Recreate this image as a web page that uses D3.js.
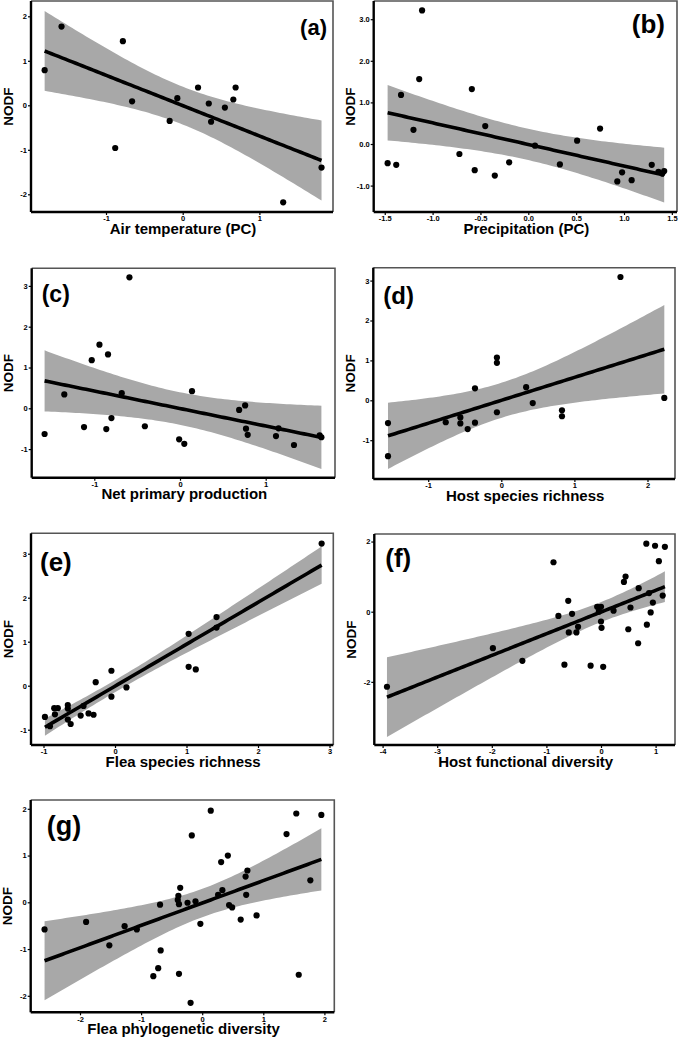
<!DOCTYPE html>
<html><head><meta charset="utf-8">
<script src="https://cdn.jsdelivr.net/npm/d3@7"></script>
<style>
body{margin:0;background:#fff}
svg{display:block}
text{font-family:"Liberation Sans",Arial,Helvetica,sans-serif;font-weight:bold;fill:#000}
</style>
</head><body>
<svg id="chart" width="680" height="1038"></svg>
<script>
// ---------------- DATA ----------------
const panelLetters = ["(a)","(b)","(c)","(d)","(e)","(f)","(g)"];
const xTitles = ["Air temperature (PC)","Precipitation (PC)","Net primary production",
  "Host species richness","Flea species richness","Host functional diversity","Flea phylogenetic diversity"];
const yTitle = "NODF";

const aX = [-1.80,-1.58,-0.78,-0.66,-0.88,-0.17,-0.07,0.20,0.34,0.37,0.55,0.66,0.69,1.31,1.81];
const aY = [0.79,1.77,1.44,0.09,-0.96,-0.35,0.16,0.40,0.04,-0.37,-0.05,0.13,0.40,-2.18,-1.40];

const bX = [-1.47,-1.38,-1.33,-1.20,-1.14,-1.11,-0.72,-0.59,-0.56,-0.45,-0.35,-0.20,0.07,0.33,0.51,0.75,0.93,0.98,1.08,1.29,1.36,1.40,1.42];
const bY = [-0.46,-0.50,1.18,0.34,1.56,3.21,-0.24,1.32,-0.63,0.43,-0.76,-0.44,-0.04,-0.49,0.08,0.37,-0.90,-0.68,-0.87,-0.50,-0.67,-0.71,-0.65];

const cX = [-1.58,-1.35,-1.12,-1.03,-0.94,-0.86,-0.84,-0.80,-0.68,-0.59,-0.41,-0.01,0.05,0.14,0.69,0.76,0.77,0.79,1.12,1.15,1.33,1.63,1.65];
const cY = [-0.63,0.34,-0.46,1.18,1.56,-0.51,1.32,-0.24,0.37,3.21,-0.44,-0.76,-0.87,0.42,-0.04,0.07,-0.50,-0.65,-0.68,-0.49,-0.90,-0.66,-0.71];

const dX = [-1.55,-1.55,-0.76,-0.56,-0.56,-0.46,-0.36,-0.36,-0.06,-0.06,-0.06,0.34,0.43,0.83,0.83,1.63,2.23];
const dY = [-0.57,-1.40,-0.55,-0.43,-0.58,-0.72,0.30,-0.56,1.07,0.94,-0.30,0.33,-0.07,-0.25,-0.40,3.09,0.06];

const eX = [-0.98,-0.91,-0.85,-0.84,-0.80,-0.66,-0.66,-0.66,-0.62,-0.48,-0.44,-0.37,-0.30,-0.27,-0.05,-0.05,0.16,1.03,1.03,1.13,1.42,1.42,2.89];
const eY = [-0.71,-0.92,-0.51,-0.65,-0.51,-0.44,-0.52,-0.77,-0.87,-0.68,-0.46,-0.63,-0.66,0.08,0.34,-0.25,-0.04,1.18,0.43,0.37,1.56,1.32,3.23];

const fX = [-3.92,-1.98,-1.44,-0.87,-0.78,-0.67,-0.60,-0.59,-0.53,-0.45,-0.42,-0.19,-0.07,-0.04,0.00,0.00,0.01,0.04,0.23,0.42,0.45,0.50,0.54,0.68,0.69,0.83,0.84,0.91,0.95,0.88,0.99,1.06,1.13,1.17];
const fY = [-2.14,-1.04,-1.40,1.41,-0.12,-1.51,0.31,-0.59,-0.06,-0.59,-0.43,-1.54,0.14,0.00,0.14,-0.28,-0.46,-1.57,0.03,0.85,1.00,-0.50,0.12,-0.90,0.67,1.94,-0.37,-0.02,0.26,0.53,1.88,1.44,0.46,1.85];

const gX = [-2.58,-1.90,-1.52,-1.27,-1.07,-0.80,-0.72,-0.69,-0.68,-0.40,-0.39,-0.38,-0.38,-0.36,-0.24,-0.19,-0.17,-0.11,-0.03,0.14,0.26,0.31,0.33,0.42,0.44,0.49,0.63,0.71,0.72,0.74,0.89,1.38,1.54,1.58,1.77,1.95];
const gY = [-0.58,-0.42,-0.92,-0.51,-0.58,-1.58,-1.41,-0.05,-1.03,0.05,0.14,-0.04,-1.53,0.31,-0.01,-2.15,1.43,0.02,-0.46,1.96,0.16,0.86,0.26,1.00,-0.06,-0.11,-0.37,0.55,0.16,0.68,-0.28,1.46,1.90,-1.55,0.47,1.87];

// tick values
const aXTicks = [-1,0,1],               aYTicks = [-2,-1,0,1,2];
const bXTicks = [-1.5,-1,-0.5,0,0.5,1,1.5], bYTicks = [-1,0,1,2,3];
const cXTicks = [-1,0,1],               cYTicks = [-1,0,1,2,3];
const dXTicks = [-1,0,1,2],             dYTicks = [-1,0,1,2,3];
const eXTicks = [-1,0,1,2,3],           eYTicks = [-1,0,1,2,3];
const fXTicks = [-4,-3,-2,-1,0,1],      fYTicks = [-2,0,2];
const gXTicks = [-2,-1,0,1,2],          gYTicks = [-2,-1,0,1,2];

// ---------------- LAYOUT (pixel geometry, not data) ----------------
const layout = [
  {L:31,   R:333,  T:1,     B:212,    x0:182.7, xu:76.7, y0:105.3, yu:44.5,  fmt:"d",   lab:{anchor:"end",  dx:-6,  dy:34, size:22}},
  {L:373.7,R:677,  T:1,     B:212,    x0:528.3, xu:95.7, y0:144,   yu:41.6,  fmt:".1f", lab:{anchor:"end",  dx:-12, dy:32, size:26}},
  {L:31.7, R:335,  T:268.3, B:477.7,  x0:180,   xu:85.7, y0:408.3, yu:40.8,  fmt:"d",   lab:{anchor:"start",dx:10,  dy:34, size:23}},
  {L:373.3,R:675,  T:267.7, B:479,    x0:501.3, xu:73.1, y0:400.3, yu:39.9,  fmt:"d",   lab:{anchor:"start",dx:10,  dy:36, size:24}},
  {L:31,   R:333.3,T:533.3, B:745,    x0:115,   xu:71.5, y0:685.7, yu:44,    fmt:"d",   lab:{anchor:"start",dx:9,   dy:38, size:26}},
  {L:374.3,R:675,  T:534,   B:745,    x0:601,   xu:54.6, y0:611.7, yu:35.08, fmt:"d",   lab:{anchor:"start",dx:11,  dy:33, size:26}},
  {L:30.7, R:334.3,T:800,   B:1012.3, x0:202.2, xu:61.1, y0:902.3, yu:46.75, fmt:"d",   lab:{anchor:"start",dx:16,  dy:35, size:27}}
];

const xs = [aX,bX,cX,dX,eX,fX,gX];
const ys = [aY,bY,cY,dY,eY,fY,gY];
const xt = [aXTicks,bXTicks,cXTicks,dXTicks,eXTicks,fXTicks,gXTicks];
const yt = [aYTicks,bYTicks,cYTicks,dYTicks,eYTicks,fYTicks,gYTicks];

// ---------------- helpers ----------------
function tQuant975(df){ // Cornish-Fisher expansion for Student t, p = 0.975
  const z = 1.959963985, z3=z*z*z, z5=z3*z*z, z7=z5*z*z, z9=z7*z*z;
  return z + (z3+z)/(4*df) + (5*z5+16*z3+3*z)/(96*df*df)
    + (3*z7+19*z5+17*z3-15*z)/(384*df*df*df)
    + (79*z9+776*z7+1482*z5-1920*z3-945*z)/(92160*Math.pow(df,4));
}
function olsBand(X,Y){
  const n=X.length, mx=d3.mean(X), my=d3.mean(Y);
  let sxx=0,sxy=0; for(let i=0;i<n;i++){sxx+=(X[i]-mx)**2; sxy+=(X[i]-mx)*(Y[i]-my);}
  const b=sxy/sxx, a=my-b*mx;
  let sse=0; for(let i=0;i<n;i++){sse+=(Y[i]-a-b*X[i])**2;}
  const s=Math.sqrt(sse/(n-2)), t=tQuant975(n-2);
  const [lo,hi]=d3.extent(X);
  return d3.range(0,81).map(k=>{
    const x=lo+(hi-lo)*k/80, f=a+b*x, h=t*s*Math.sqrt(1/n+(x-mx)**2/sxx);
    return {x, f, lo:f-h, hi:f+h};
  });
}
const minus = s => s.replace(/\u2212/g,"-");

const svg = d3.select("#chart");
svg.append("rect").attr("width",680).attr("height",1038).attr("fill","#fff");

layout.forEach((P,i)=>{
  const X=xs[i], Y=ys[i];
  const x = d3.scaleLinear().domain([(P.L-P.x0)/P.xu,(P.R-P.x0)/P.xu]).range([P.L,P.R]);
  const y = d3.scaleLinear().domain([(P.y0-P.B)/P.yu,(P.y0-P.T)/P.yu]).range([P.B,P.T]);
  const g = svg.append("g");
  const band = olsBand(X,Y);

  g.append("path").datum(band)
    .attr("d", d3.area().x(d=>x(d.x)).y0(d=>y(d.lo)).y1(d=>y(d.hi)))
    .attr("fill","#a8a8a8");

  g.selectAll("circle").data(X.map((v,k)=>[v,Y[k]])).join("circle")
    .attr("cx",d=>x(d[0])).attr("cy",d=>y(d[1])).attr("r",3.1).attr("fill","#000");

  g.append("path").datum(band)
    .attr("d", d3.line().x(d=>x(d.x)).y(d=>y(d.f)))
    .attr("fill","none").attr("stroke","#000").attr("stroke-width",3.6);

  g.append("path").attr("d",`M${P.L},${P.T}H${P.R}V${P.B}`)
    .attr("fill","none").attr("stroke","#555").attr("stroke-width",1.6);

  const fmt = d => minus(d3.format(P.fmt)(d));
  const xa = g.append("g").attr("transform",`translate(0,${P.B})`)
    .call(d3.axisBottom(x).tickValues(xt[i]).tickSize(3).tickPadding(1).tickFormat(fmt));
  const ya = g.append("g").attr("transform",`translate(${P.L},0)`)
    .call(d3.axisLeft(y).tickValues(yt[i]).tickSize(3).tickPadding(1).tickFormat(fmt));
  [xa,ya].forEach(ax=>{
    ax.select(".domain").attr("stroke","#000").attr("stroke-width",2.4);
    ax.selectAll(".tick line").attr("stroke","#000").attr("stroke-width",1.2);
    ax.selectAll(".tick text").attr("font-size",7.5).attr("font-family","Liberation Sans, Arial, sans-serif").attr("font-weight","bold");
  });
  xa.select(".domain").attr("d",`M${P.L},0H${P.R}`);
  ya.select(".domain").attr("d",`M0,${P.T}V${P.B}`);

  g.append("text").attr("x",(P.L+P.R)/2+1).attr("y",P.B+21.5)
    .attr("text-anchor","middle").attr("font-size",15).text(xTitles[i]);
  const yx = P.L-18.5, yy=(P.T+P.B)/2;
  g.append("text").attr("transform",`translate(${yx},${yy}) rotate(-90)`)
    .attr("text-anchor","middle").attr("font-size",13.5).text(yTitle);
  const lx = P.lab.anchor==="end" ? P.R+P.lab.dx : P.L+P.lab.dx;
  g.append("text").attr("x",lx).attr("y",P.T+P.lab.dy).attr("text-anchor",P.lab.anchor)
    .attr("font-size",P.lab.size).text(panelLetters[i]);
});
</script>
</body></html>
